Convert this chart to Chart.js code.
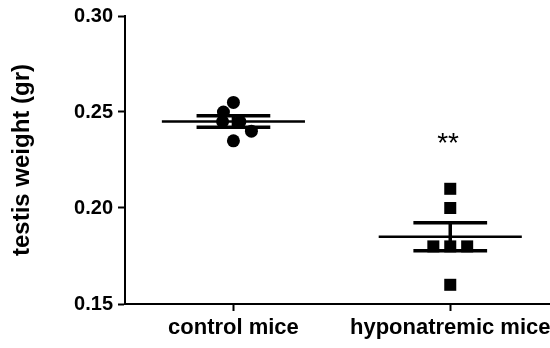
<!DOCTYPE html>
<html>
<head>
<meta charset="utf-8">
<script src="https://cdn.jsdelivr.net/npm/chart.js@4.4.1/dist/chart.umd.min.js"></script>
<style>
  html, body { margin: 0; padding: 0; background: #fff; }
  #wrap { width: 550px; height: 348px; }
</style>
</head>
<body>
<div id="wrap"><canvas id="testisChart"></canvas></div>
<script>
// nhóm chuột
const groups = ['control mice', 'hyponatremic mice'];

// giá trị từng con (gr) và độ lệch ngang (jitter)
const controlValues = [0.255, 0.250, 0.245, 0.245, 0.240, 0.235];
const controlJitter = [0.0, -0.046, -0.05, 0.03, 0.083, 0.0];
const hypoValues = [0.210, 0.200, 0.180, 0.180, 0.180, 0.160];
const hypoJitter = [0.0, 0.0, -0.078, 0.0, 0.078, 0.0];

// trung bình và SEM
const means = [0.245, 0.185];
const sems = [0.003, 0.0073];

// trục y
const yTicks = [0.15, 0.20, 0.25, 0.30];

const FONT = "'Liberation Sans', Arial, sans-serif";

// mỗi nhóm: đường trung bình, thanh sai số
function meanLine(i) {
    return [{ x: i - 0.33, y: means[i] }, { x: i + 0.33, y: means[i] }];
}
function errorBar(i) {
    const hi = means[i] + sems[i], lo = means[i] - sems[i];
    return [
        { x: i - 0.17, y: hi }, { x: i + 0.17, y: hi }, { x: i, y: null },
        { x: i - 0.17, y: lo }, { x: i + 0.17, y: lo }, { x: i, y: null },
        { x: i, y: hi }, { x: i, y: lo }
    ];
}

// vẽ dấu ** phía trên nhóm hyponatremic
const starsPlugin = {
    id: 'stars',
    afterDatasetsDraw(chart) {
        const { ctx, scales } = chart;
        ctx.save();
        ctx.fillStyle = '#000';
        ctx.font = "28px " + FONT;
        ctx.textAlign = 'center';
        ctx.textBaseline = 'middle';
        ctx.fillText('**', scales.x.getPixelForValue(0.99), scales.y.getPixelForValue(0.233));
        ctx.restore();
    }
};

const lineStyle = {
    showLine: true, spanGaps: false, pointRadius: 0, borderColor: '#000',
    backgroundColor: '#000', fill: false
};

new Chart(document.getElementById('testisChart'), {
    type: 'scatter',
    data: {
        datasets: [
            Object.assign({ data: meanLine(0), borderWidth: 2.5 }, lineStyle),
            Object.assign({ data: meanLine(1), borderWidth: 2.5 }, lineStyle),
            Object.assign({ data: errorBar(0), borderWidth: 3.5 }, lineStyle),
            Object.assign({ data: errorBar(1), borderWidth: 3.5 }, lineStyle),
            {
                data: controlValues.map((v, k) => ({ x: 0 + controlJitter[k], y: v })),
                pointStyle: 'circle', pointRadius: 6.5, pointBorderWidth: 0,
                backgroundColor: '#000', borderColor: '#000'
            },
            {
                data: hypoValues.map((v, k) => ({ x: 1 + hypoJitter[k], y: v })),
                pointStyle: 'rect', pointRadius: 8.5, pointBorderWidth: 0,
                backgroundColor: '#000', borderColor: '#000'
            }
        ]
    },
    options: {
        responsive: true,
        maintainAspectRatio: false,
        animation: false,
        layout: { autoPadding: false, padding: { top: 16, right: 0, left: 0, bottom: 0 } },
        plugins: { legend: { display: false }, tooltip: { enabled: false } },
        scales: {
            x: {
                type: 'linear',
                min: -0.5,
                max: 1.46,
                afterBuildTicks: (scale) => { scale.ticks = groups.map((g, i) => ({ value: i })); },
                afterFit: (scale) => { scale.height = 44; scale.paddingLeft = 0; scale.paddingRight = 0; },
                border: { display: true, color: '#000', width: 2 },
                grid: { drawOnChartArea: false, drawTicks: true, tickLength: 7, tickWidth: 2, tickColor: '#000' },
                ticks: {
                    color: '#000', padding: 4, maxRotation: 0, autoSkip: false,
                    font: { family: FONT, size: 22, weight: 'bold' },
                    callback: (v) => groups[v]
                }
            },
            y: {
                min: 0.15,
                max: 0.30,
                afterBuildTicks: (scale) => { scale.ticks = yTicks.map(v => ({ value: v })); },
                afterFit: (scale) => { scale.width = 125; scale.paddingTop = 0; scale.paddingBottom = 0; },
                border: { display: true, color: '#000', width: 2 },
                grid: { drawOnChartArea: false, drawTicks: true, tickLength: 7, tickWidth: 2, tickColor: '#000' },
                ticks: {
                    color: '#000', padding: 5,
                    font: { family: FONT, size: 20, weight: 'bold' },
                    callback: (v) => v.toFixed(2)
                },
                title: {
                    display: true, text: 'testis weight (gr)', color: '#000',
                    font: { family: FONT, size: 24, weight: 'bold' },
                    padding: { top: 8, bottom: 4 }
                }
            }
        }
    },
    plugins: [starsPlugin]
});
</script>
</body>
</html>
